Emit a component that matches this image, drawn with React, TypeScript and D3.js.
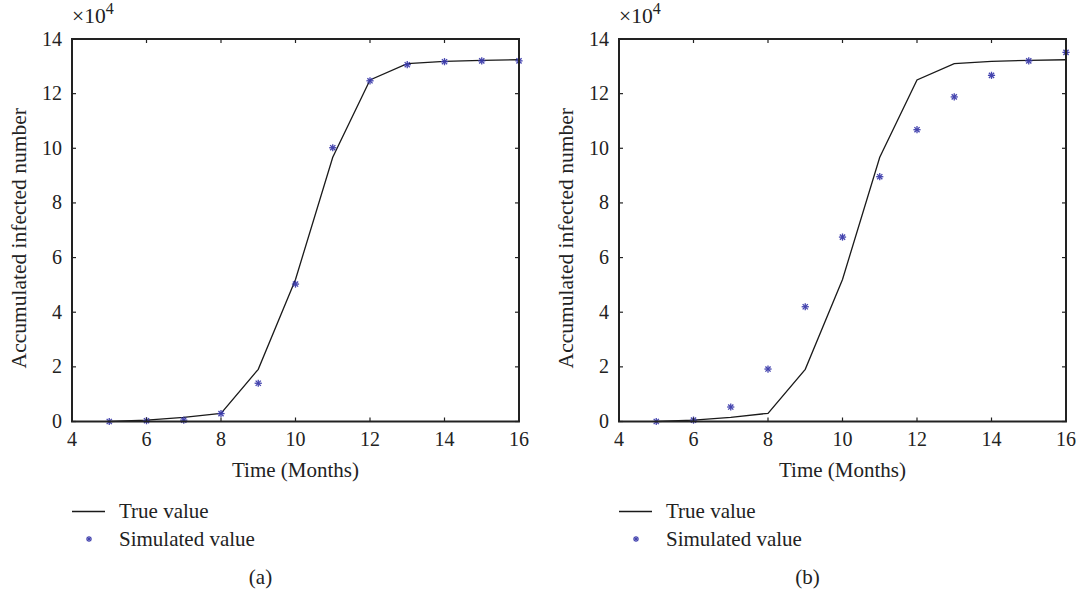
import React from "react";
import * as d3 from "d3";

const months = [5, 6, 7, 8, 9, 10, 11, 12, 13, 14, 15, 16];
const trueValues = [0, 0.05, 0.15, 0.3, 1.91, 5.2, 9.67, 12.5, 13.1, 13.18, 13.22, 13.24];
const simulatedA = [0, 0.03, 0.05, 0.29, 1.4, 5.03, 10.02, 12.47, 13.06, 13.17, 13.2, 13.2];
const simulatedB = [0, 0.05, 0.53, 1.92, 4.2, 6.75, 8.96, 10.68, 11.88, 12.67, 13.2, 13.51];
const xTicks = [4, 6, 8, 10, 12, 14, 16];
const yTicks = [0, 2, 4, 6, 8, 10, 12, 14];
const panelLabels = ["(a)", "(b)"];

const FONT = "'Liberation Serif', 'Times New Roman', serif";
const MARKER = "#3b3bab";

function Star({ x, y, r = 3.6 }: { x: number; y: number; r?: number }) {
  const d = r * 0.72;
  return (
    <g stroke={MARKER} strokeWidth={1.3} opacity={0.95}>
      <line x1={x - r} y1={y} x2={x + r} y2={y} />
      <line x1={x} y1={y - r} x2={x} y2={y + r} />
      <line x1={x - d} y1={y - d} x2={x + d} y2={y + d} />
      <line x1={x - d} y1={y + d} x2={x + d} y2={y - d} />
    </g>
  );
}

function Panel({ x0, sim, label }: { x0: number; sim: number[]; label: string }) {
  const x1 = x0 + 447;
  const top = 39;
  const bottom = 421.5;
  const xs = d3.scaleLinear().domain([4, 16]).range([x0, x1]);
  const ys = d3.scaleLinear().domain([0, 14]).range([bottom, top]);
  const line = d3
    .line<number>()
    .x((_, i) => xs(months[i]))
    .y((v) => ys(v));
  const tl = 4;
  const cx = (x0 + x1) / 2;
  return (
    <g fontFamily={FONT} fill="#222">
      <path d={line(trueValues) || ""} fill="none" stroke="#1a1a1a" strokeWidth={1.3} />
      {sim.map((v, i) => (
        <Star key={i} x={xs(months[i])} y={ys(v)} />
      ))}
      <rect x={x0} y={top} width={x1 - x0} height={bottom - top} fill="none" stroke="#222" strokeWidth={2} />
      {xTicks.map((t) => (
        <g key={"x" + t}>
          <line x1={xs(t)} x2={xs(t)} y1={bottom} y2={bottom - tl} stroke="#222" strokeWidth={1.2} />
          <line x1={xs(t)} x2={xs(t)} y1={top} y2={top + tl} stroke="#222" strokeWidth={1.2} />
          <text x={xs(t)} y={446} textAnchor="middle" fontSize={20}>
            {t}
          </text>
        </g>
      ))}
      {yTicks.map((t) => (
        <g key={"y" + t}>
          <line x1={x0} x2={x0 + tl} y1={ys(t)} y2={ys(t)} stroke="#222" strokeWidth={1.2} />
          <line x1={x1} x2={x1 - tl} y1={ys(t)} y2={ys(t)} stroke="#222" strokeWidth={1.2} />
          <text x={x0 - 10} y={ys(t) + 6.5} textAnchor="end" fontSize={20}>
            {t}
          </text>
        </g>
      ))}
      <text x={x0} y={23} fontSize={21.5}>
        ×10
        <tspan dy={-9} fontSize={16}>
          4
        </tspan>
      </text>
      <text x={cx} y={477} textAnchor="middle" fontSize={21}>
        Time (Months)
      </text>
      <text
        transform={`translate(${x0 - 46},${(top + bottom) / 2 + 8}) rotate(-90)`}
        textAnchor="middle"
        fontSize={21.5}
      >
        Accumulated infected number
      </text>
      <line x1={x0} x2={x0 + 33} y1={511.5} y2={511.5} stroke="#1a1a1a" strokeWidth={1.3} />
      <text x={x0 + 47} y={518} fontSize={21}>
        True value
      </text>
      <Star x={x0 + 17} y={539} r={3} />
      <text x={x0 + 47} y={546} fontSize={21}>
        Simulated value
      </text>
      <text x={x0 + 188.5} y={584} textAnchor="middle" fontSize={21}>
        {label}
      </text>
    </g>
  );
}

export default function App() {
  return (
    <svg
      width={1076}
      height={591}
      style={{ position: "absolute", left: 0, top: 0, background: "#fff" }}
    >
      <rect width={1076} height={591} fill="#fff" />
      <Panel x0={72} sim={simulatedA} label={panelLabels[0]} />
      <Panel x0={619} sim={simulatedB} label={panelLabels[1]} />
    </svg>
  );
}
